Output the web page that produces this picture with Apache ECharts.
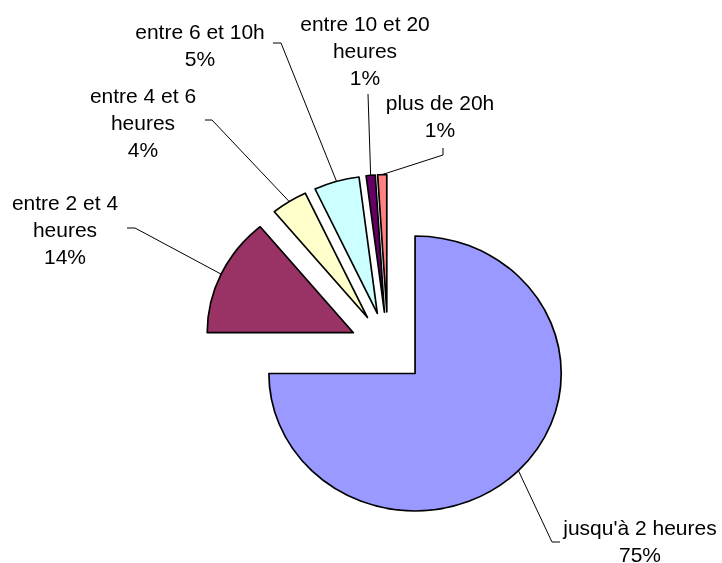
<!DOCTYPE html>
<html lang="fr">
<head>
	<meta charset="utf-8" />
	<title>Durée</title>
	<style type="text/css">
		html,body{margin:0;padding:0;background:#fff;overflow:hidden;}
		#wrap{position:relative;width:722px;height:563px;overflow:hidden;background:#fff;}
		#pie,#labels{position:absolute;left:0;top:0;width:722px;height:563px;}
		/* le camembert d'origine est légèrement ovale */
		#pie{transform:scaleX(1.063);transform-origin:388px 0;}
	</style>
</head>
<body>
	<div id="wrap">
		<div id="pie"></div>
		<div id="labels"></div>
	</div>
<script src="https://cdn.jsdelivr.net/npm/echarts@6/dist/echarts.min.js"></script>
<script>
	// catégories et parts (%)
	var categories = ['jusqu\'à 2 heures', 'entre 2 et 4\nheures', 'entre 4 et 6\nheures', 'entre 6 et 10h', 'entre 10 et 20\nheures', 'plus de 20h'];
	var values = [75, 14, 4, 5, 1, 1];
	var colors = ['#9999FF', '#993366', '#FFFFCC', '#CCFFFF', '#660066', '#FF8080'];

	// position des étiquettes (centre du bloc) et coudes des traits de rappel
	var labelSpots = [
		{x: 640, y: 543, line: [[552, 542], [560, 542]]},
		{x: 65, y: 231, line: [[135, 228], [127, 228]]},
		{x: 143, y: 124, line: [[212, 120], [205, 120]]},
		{x: 200, y: 47, line: [[281, 43], [273, 43]]},
		{x: 365, y: 52, line: [[368, 94]]},
		{x: 440, y: 118, line: [[443, 155], [443, 148]]}
	];

	var center = [388, 348];
	var stretch = 1.063;
	var explode = 36;
	var total = values.reduce(function (a, b) { return a + b; }, 0);

	// une série par part : chaque part est éclatée le long de sa bissectrice
	function buildSeries(withLabels) {
		var list = [];
		var cum = 0;
		values.forEach(function (v, k) {
			var mid = (cum + v / 2) / total * 2 * Math.PI;
			cum += v;
			list.push({
				type: 'pie',
				silent: true,
				center: [center[0] + explode * Math.sin(mid), center[1] - explode * Math.cos(mid)],
				radius: 137.5,
				startAngle: 90,
				clockwise: true,
				avoidLabelOverlap: false,
				percentPrecision: 0,
				label: {
					position: 'outside',
					formatter: '{b}\n{d}%',
					color: '#000',
					fontFamily: 'Liberation Sans, Arial, sans-serif',
					fontSize: 21,
					lineHeight: 27,
					align: 'center'
				},
				labelLine: {
					lineStyle: {color: '#000', width: 1}
				},
				labelLayout: function (params) {
					var s = labelSpots[params.dataIndex];
					var p0 = params.labelLinePoints ? params.labelLinePoints[0].slice() : s.line[0].slice();
					// le trait part du bord de la part ovale
					p0[0] = center[0] + (p0[0] - center[0]) * stretch;
					return {
						x: s.x,
						y: s.y,
						align: 'center',
						verticalAlign: 'middle',
						labelLinePoints: [p0].concat(s.line)
					};
				},
				data: categories.map(function (name, i) {
					var on = i === k;
					var drawn = on && !withLabels;
					return {
						name: name,
						value: values[i],
						itemStyle: drawn ? {color: colors[i], borderColor: '#000', borderWidth: 1.6} : {color: 'rgba(0,0,0,0)', borderWidth: 0},
						label: {show: on && withLabels},
						labelLine: {show: on && withLabels}
					};
				})
			});
		});
		return list;
	}

	var pieChart = echarts.init(document.getElementById('pie'), null, {renderer: 'svg'});
	pieChart.setOption({
		animation: false,
		series: buildSeries(false)
	});

	var labelChart = echarts.init(document.getElementById('labels'));
	labelChart.setOption({
		animation: false,
		series: buildSeries(true)
	});
</script>
</body>
</html>
